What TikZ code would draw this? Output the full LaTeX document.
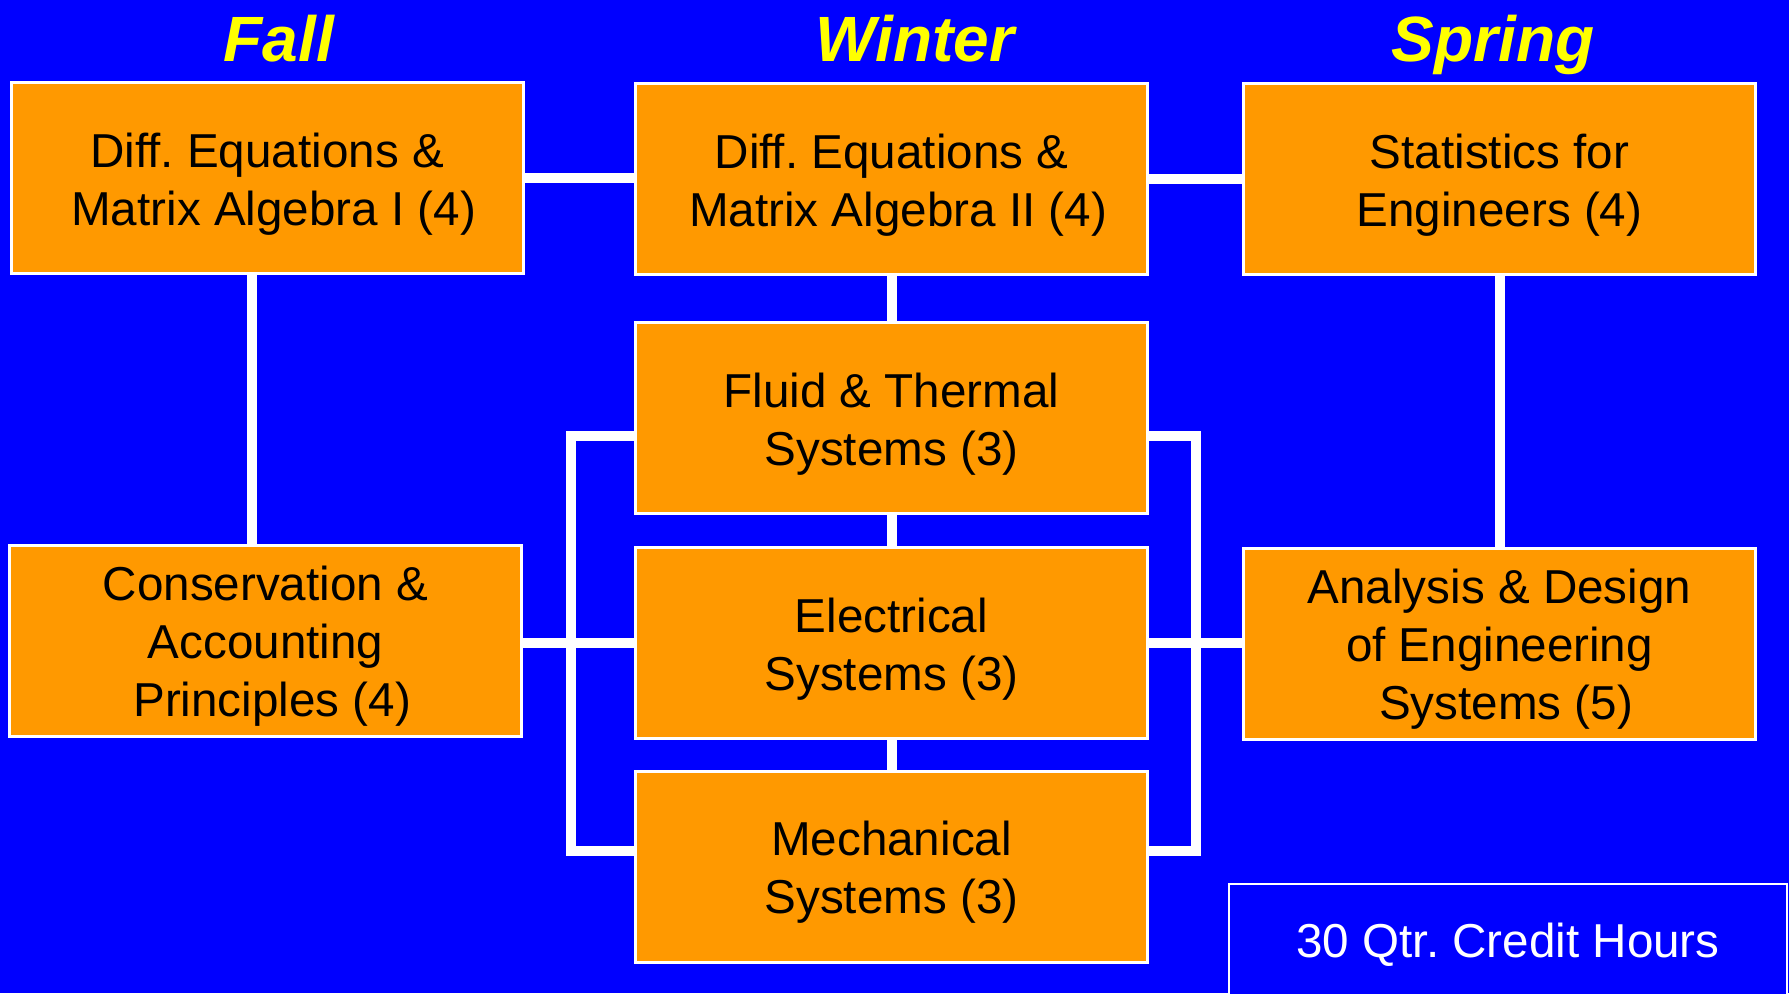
\documentclass[tikz,border=0pt]{standalone}
\usepackage{fontspec}
\setmainfont{Liberation Sans}
\frenchspacing
\definecolor{bg}{HTML}{0000FF}
\definecolor{boxfill}{HTML}{FF9900}
\definecolor{titlecol}{HTML}{FFFF00}
\newcommand{\linepush}{\hspace*{10pt}}
\newcommand{\coursetxt}[1]{\begin{tabular}[t]{@{}c@{}}#1\end{tabular}}
\begin{document}
\begin{tikzpicture}[x=0.75pt,y=-0.75pt,
  course/.style={draw=white,line width=1.5pt,fill=boxfill,text=black,
    minimum width=383.25pt,minimum height=142.5pt,inner sep=0pt,
    font=\fontsize{35.7}{43.5}\selectfont,text height=30pt},
  two/.style={text depth=45.9pt},
  three/.style={text depth=89.4pt},
  season/.style={text=titlecol,anchor=base,font=\fontsize{48}{52}\selectfont\bfseries\itshape},
  conn/.style={draw=white,line width=7.5pt},
  credit/.style={draw=white,line width=1.5pt,fill=bg,text=white,
    minimum width=418.5pt,minimum height=90.75pt,inner sep=0pt,
    font=\fontsize{35.7}{43.5}\selectfont}]
\fill[bg] (0,0) rectangle (1789,993);
\useasboundingbox (0,0) rectangle (1789,993);

\node[season] (tF) at (279,61) {Fall};
\node[season] (tW) at (915,61) {Winter};
\node[season] (tS) at (1493,61) {Spring};

\coordinate (cx) at (251.5,0);
\coordinate (ly) at (0,436);
\coordinate (my) at (0,851);
\coordinate (lbx) at (571,0);
\coordinate (rbx) at (1195.5,0);

\node[course,two] (D1) at (267,178) {\coursetxt{Diff. Equations \&\\\linepush Matrix Algebra I (4)}};
\node[course,two] (D2) at (891.5,179) {\coursetxt{Diff. Equations \&\\\linepush Matrix Algebra II (4)}};
\node[course,two] (S) at (1499.5,179) {\coursetxt{Statistics for\\Engineers (4)}};
\node[course,two] (F) at (891.5,418) {\coursetxt{Fluid \& Thermal\\Systems (3)}};
\node[course,two] (E) at (891.5,643) {\coursetxt{Electrical\\Systems (3)}};
\node[course,two] (M) at (891.5,866.5) {\coursetxt{Mechanical\\Systems (3)}};
\node[course,three] (C) at (265.5,640.5) {\coursetxt{Conservation \&\\Accounting\\\linepush Principles (4)}};
\node[course,three] (A) at (1499.5,643.5) {\coursetxt{Analysis \& Design\\of Engineering\\\linepush Systems (5)}};

\draw[conn] (D1.east) -- (D2.west |- D1.east);
\draw[conn] (D2.east) -- (S.west);
\draw[conn] (D1.south -| cx) -- (C.north -| cx);
\draw[conn] (D2.south) -- (F.north);
\draw[conn] (S.south) -- (A.north);
\draw[conn] (F.south) -- (E.north);
\draw[conn] (E.south) -- (M.north);
\draw[conn] (C.east |- E.east) -- (E.west);
\draw[conn] (E.east) -- (A.west |- E.east);
\draw[conn,line join=miter] (F.west |- ly) -- (lbx |- ly) -- (lbx |- my) -- (M.west |- my);
\draw[conn,line join=miter] (F.east |- ly) -- (rbx |- ly) -- (rbx |- my) -- (M.east |- my);

\foreach \n in {D1,D2,S,F,E,M,C,A}{
  \draw[white,line width=1.5pt] (\n.north west) rectangle (\n.south east);
}

\node[credit,anchor=north west] (cr) at (1228,883) {30 Qtr. Credit Hours};
\end{tikzpicture}
\end{document}
